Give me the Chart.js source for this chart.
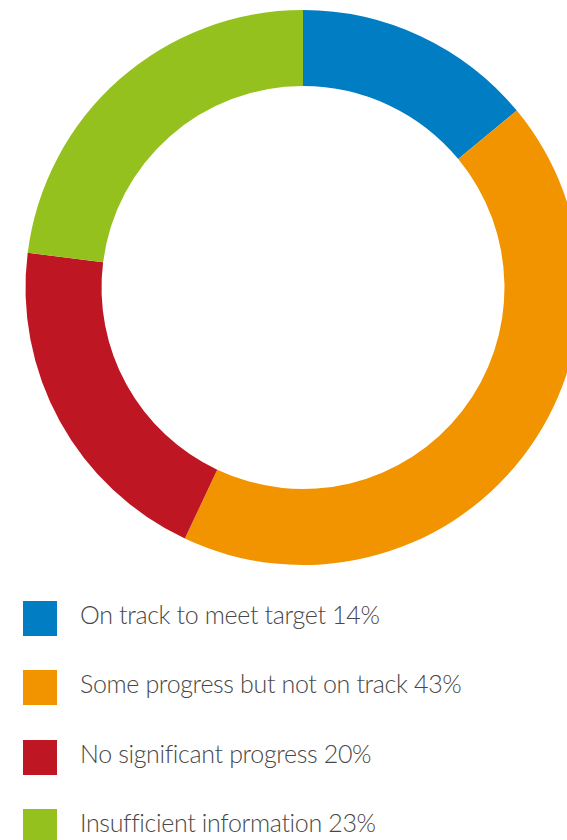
<!DOCTYPE html>
<html>
<head>
<meta charset="utf-8">
<script src="https://cdn.jsdelivr.net/npm/chart.js@4"></script>
<style>
  html, body { margin: 0; padding: 0; background: #fff; overflow: hidden; width: 567px; height: 840px; }
  #wrap { position: absolute; left: 0; top: 0; width: 606px; height: 575px; }
  #legend { position: absolute; left: 0; top: 0; width: 567px; }
  .item { position: absolute; left: 23px; height: 35px; }
  .sw { position: absolute; left: 0; top: 0; width: 34px; height: 35px; }
  .lbl { position: absolute; left: 57px; top: -7px; white-space: nowrap; font-family: "Lato", sans-serif; font-weight: 300; font-size: 25px; letter-spacing: -0.35px; color: #484848; line-height: 40px; }
</style>
</head>
<body>
<div id="wrap"><canvas id="c" width="606" height="575"></canvas></div>
<div id="legend"></div>
<script>
const categories = ["On track to meet target", "Some progress but not on track", "No significant progress", "Insufficient information"];
const values = [14, 43, 20, 23];
const colors = ["#007DC3", "#F29400", "#BE1622", "#95C11F"];

new Chart(document.getElementById('c'), {
  type: 'doughnut',
  data: {
    labels: categories,
    datasets: [{ data: values, backgroundColor: colors, borderWidth: 0, hoverOffset: 0 }]
  },
  options: {
    responsive: false,
    animation: false,
    cutout: '72.6%',
    layout: { padding: 10 },
    plugins: { legend: { display: false }, tooltip: { enabled: false } }
  }
});

const legend = document.getElementById('legend');
const tops = [600.5, 670, 739.5, 809];
categories.forEach((cat, i) => {
  const it = document.createElement('div');
  it.className = 'item';
  it.style.top = tops[i] + 'px';
  const sw = document.createElement('div');
  sw.className = 'sw';
  sw.style.background = colors[i];
  const lb = document.createElement('div');
  lb.className = 'lbl';
  lb.textContent = cat + ' ' + values[i] + '%';
  it.appendChild(sw); it.appendChild(lb);
  legend.appendChild(it);
});
</script>
</body>
</html>
